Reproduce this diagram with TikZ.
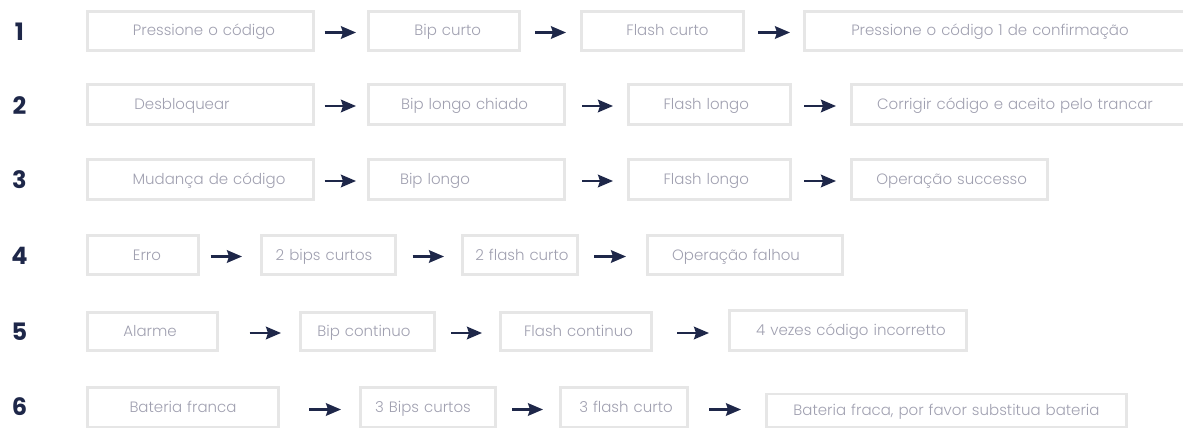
\documentclass[tikz,border=0pt]{standalone}
\usepackage{fontspec}
\setmainfont{Poppins}[UprightFont={* Light},BoldFont={* SemiBold}]
\newfontfamily\numfont{Poppins}[UprightFont={* Bold}]
\usetikzlibrary{arrows.meta}
\definecolor{navy}{HTML}{1E2749}
\definecolor{boxline}{HTML}{E6E6E6}
\definecolor{txt}{HTML}{A0A0B0}
\tikzset{
  stepbox/.style={draw=boxline, line width=2.7pt, rectangle, inner sep=0pt,
    text=txt, font=\fontsize{15}{16}\selectfont, text height=12pt, text depth=2pt, align=center},
  numlabel/.style={text=navy, font=\numfont\fontsize{24}{24}\selectfont, inner sep=0pt},
  arr/.style={draw=navy, line width=2.4pt, -{Stealth[length=15pt,width=12.5pt,inset=2pt]}},
}
% \bx{name}{left}{right}{top}{bottom}{dx}{text}
\newcommand\bx[7]{%
  \node[stepbox, minimum width={#3-#2-2.7}, minimum height={#5-#4-2.7}, text width={#3-#2-2.7}]
    (#1) at ({(#2+#3)/2},{(#4+#5)/2}) {\hspace*{#6pt}\hspace*{#6pt}#7};}
\newcommand\ar[4]{%
  \coordinate (#1s) at (#2,#4); \coordinate (#1e) at (#3,#4);
  \draw[arr] (#1s) -- (#1e);}
\begin{document}
\begin{tikzpicture}[x=1pt,y=-1pt]
\useasboundingbox (0,0) rectangle (1183,428);
% numbers
\node[numlabel] (n1) at (19.5,31.5) {1};
\node[numlabel] (n2) at (19.5,105.5) {2};
\node[numlabel] (n3) at (19.5,180) {3};
\node[numlabel] (n4) at (19.5,255.5) {4};
\node[numlabel] (n5) at (19.5,332) {5};
\node[numlabel] (n6) at (19.5,407) {6};
% row 1
\bx{b11}{86}{315}{10}{52}{3.5}{Pressione o código}
\bx{b12}{367}{520.5}{10}{52}{4}{Bip curto}
\bx{b13}{580}{745}{10}{52}{5}{Flash curto}
\bx{b14}{803}{1195}{10}{52}{-9}{Pressione o código 1 de confirmação}
\ar{a11}{324.5}{356}{32.5}
\ar{a12}{535}{566}{32.5}
\ar{a13}{758}{790}{32.5}
% row 2
\bx{b21}{86}{315}{83}{126}{-18.5}{Desbloquear}
\bx{b22}{367}{565.6}{83}{126}{-1.7}{Bip longo chiado}
\bx{b23}{627}{791.5}{83}{126}{-3}{Flash longo}
\bx{b24}{850}{1195}{83}{126}{-7.5}{Corrigir código e aceito pelo trancar}
\ar{a21}{324.5}{356}{106}
\ar{a22}{582}{613}{106}
\ar{a23}{804}{836}{106}
% row 3
\bx{b31}{86}{315}{158}{201}{8.5}{Mudança de código}
\bx{b32}{367}{565.6}{158}{201}{-31.3}{Bip longo}
\bx{b33}{627}{791.5}{158}{201}{-3}{Flash longo}
\bx{b34}{850}{1048.5}{158}{201}{2.4}{Operação successo}
\ar{a31}{324.5}{356}{181}
\ar{a32}{582}{613}{181}
\ar{a33}{804}{836}{181}
% row 4
\bx{b41}{86}{200}{234}{276}{4}{Erro}
\bx{b42}{260}{397}{234}{276}{-4.5}{2 bips curtos}
\bx{b43}{461}{578.6}{234}{276}{2.2}{2 flash curto}
\bx{b44}{646}{844}{234}{276}{-9}{Operação falhou}
\ar{a41}{210.5}{242}{256.5}
\ar{a42}{412.5}{444}{256.5}
\ar{a43}{594}{626}{256.5}
% row 5
\bx{b51}{86}{219}{311}{352}{-2.5}{Alarme}
\bx{b52}{299}{435.5}{311}{352}{-3.25}{Bip continuo}
\bx{b53}{499.4}{653}{311}{352}{2.3}{Flash continuo}
\bx{b54}{728}{968}{309}{352}{3}{4 vezes código incorretto}
\ar{a51}{249.5}{281}{333}
\ar{a52}{451}{482}{333}
\ar{a53}{677}{709}{333}
% row 6
\bx{b61}{86}{280}{386}{428.5}{0}{Bateria franca}
\bx{b62}{359}{497}{386}{428.5}{-5}{3 Bips curtos}
\bx{b63}{559}{689}{386}{428.5}{2}{3 flash curto}
\bx{b64}{765}{1128}{392.7}{428.5}{0}{Bateria fraca, por favor substitua bateria}
\ar{a61}{309}{341}{409.5}
\ar{a62}{512}{543}{409.5}
\ar{a63}{709}{741}{409.5}
\end{tikzpicture}
\end{document}
